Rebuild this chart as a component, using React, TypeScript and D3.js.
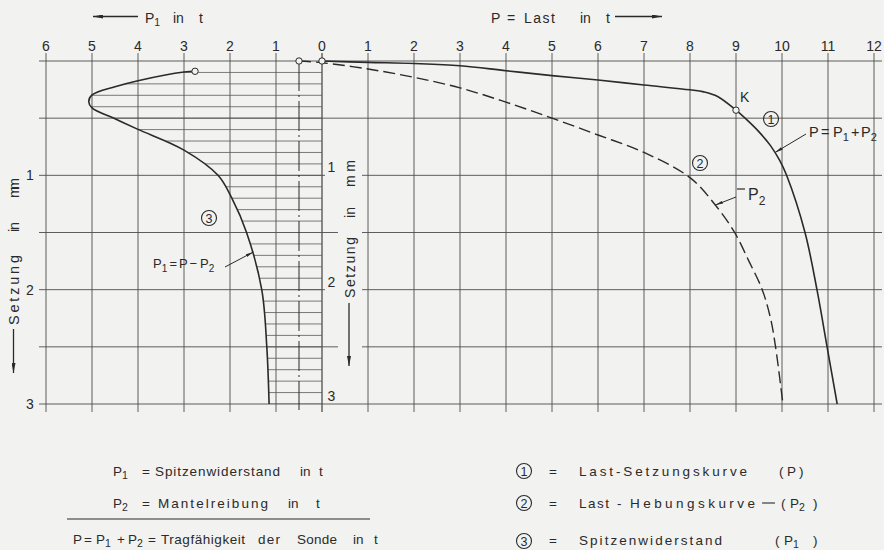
import React from 'react';
import * as d3 from 'd3';

// Kurve 1: Last-Setzungskurve P (t) / Setzung (mm)
const loadP = [0, 1, 2, 3, 4, 5, 6, 7, 8, 8.3, 8.6, 9.0, 9.25, 9.5, 9.75, 9.95, 10.1, 10.5, 10.76, 10.98, 11.2];
const loadS = [0, 0.012, 0.022, 0.041, 0.085, 0.128, 0.166, 0.21, 0.252, 0.27, 0.31, 0.43, 0.52, 0.62, 0.74, 0.87, 1.0, 1.5, 2.0, 2.5, 3.0];

// Kurve 2: Last-Hebungskurve P2
const liftP = [-0.5, 0, 1, 2, 3, 4, 5, 6, 7, 8, 8.55, 8.97, 9.28, 9.57, 9.75, 9.86, 10.02];
const liftS = [0, 0.015, 0.07, 0.143, 0.235, 0.36, 0.5, 0.647, 0.8, 1.02, 1.26, 1.5, 1.75, 2.0, 2.25, 2.5, 3.0];

// Kurve 3: Spitzenwiderstand P1 = P - P2
const tipP = [2.76, 3.0, 4.0, 4.5, 5.0, 5.07, 5.0, 4.5, 4.0, 3.0, 2.26, 1.96, 1.64, 1.31, 1.2, 1.15];
const tipS = [0.09, 0.096, 0.172, 0.225, 0.297, 0.356, 0.41, 0.505, 0.598, 0.779, 1.0, 1.2, 1.5, 2.0, 2.5, 3.0];

const loadTicks = [0, 1, 2, 3, 4, 5, 6, 7, 8, 9, 10, 11, 12];
const tipTicks = [1, 2, 3, 4, 5, 6];
const settleTicks = [1, 2, 3];
const gridS = [0, 0.5, 1, 1.5, 2, 2.5, 3];

const FONT = "'Liberation Sans', Arial, sans-serif";
const INK = '#2a2a2a';
const GRID = '#4d4d4d';
const BG = '#f2f2f0';

function Ring({ cx, cy, n }: { cx: number; cy: number; n: string }) {
  return (
    <g>
      <circle cx={cx} cy={cy} r={7.5} fill="none" stroke={INK} strokeWidth={1.1} />
      <text x={cx} y={cy + 4.5} fontSize={12.5} textAnchor="middle">{n}</text>
    </g>
  );
}

export default function App() {
  const xP = d3.scaleLinear().domain([0, 12]).range([322, 874]);
  const xP1 = d3.scaleLinear().domain([0, 6]).range([322, 46]);
  const yS = d3.scaleLinear().domain([0, 3]).range([61, 404]);

  const line = d3.line().curve(d3.curveCatmullRom.alpha(0.5));
  const loadPts = loadP.map((p, i) => [xP(p), yS(loadS[i])] as [number, number]);
  const liftPts = liftP.map((p, i) => [xP(p), yS(liftS[i])] as [number, number]);
  const tipPts = tipP.map((p, i) => [xP1(p), yS(tipS[i])] as [number, number]);

  const tipPath = line(tipPts) || '';
  const clipPath =
    tipPath + `L${xP1(0)},${yS(tipS[tipS.length - 1])}L${xP1(0)},${yS(tipS[0])}Z`;
  const hatch = d3.range(0.1, 3.001, 0.1);

  const k = loadPts[11];
  const a1 = [xP(9.85), yS(0.8)];
  const a2 = liftPts[10];
  const a3 = [xP1(1.49), yS(1.67)];

  const sub = (t: string, size = 10.5, d = 3) => (
    <tspan dy={d} fontSize={size}>{t}</tspan>
  );

  return (
    <svg width={884} height={550} style={{ position: 'absolute', left: 0, top: 0, display: 'block' }}
      fontFamily={FONT} fill={INK}>
      <defs>
        <marker id="ah" viewBox="0 0 10 4" refX={10} refY={2} markerWidth={10} markerHeight={4}
          markerUnits="userSpaceOnUse" orient="auto">
          <path d="M0,0L10,2L0,4Z" fill={INK} />
        </marker>
        <marker id="ahs" viewBox="0 0 8 3" refX={8} refY={1.5} markerWidth={8} markerHeight={3}
          markerUnits="userSpaceOnUse" orient="auto">
          <path d="M0,0L8,1.5L0,3Z" fill={INK} />
        </marker>
        <clipPath id="tipArea"><path d={clipPath} /></clipPath>
      </defs>
      <rect width={884} height={550} fill={BG} />

      {/* Raster */}
      <g stroke={GRID} strokeWidth={0.9}>
        {loadTicks.map(t => (
          <line key={'v' + t} x1={xP(t)} x2={xP(t)} y1={53} y2={412} strokeWidth={t === 0 ? 1.3 : 0.9} />
        ))}
        {tipTicks.map(t => (
          <line key={'w' + t} x1={xP1(t)} x2={xP1(t)} y1={53} y2={412} />
        ))}
        {gridS.map(s => (
          <line key={'h' + s} x1={39} x2={882} y1={yS(s)} y2={yS(s)} />
        ))}
      </g>
      {/* Lücken im Raster für die mittlere Achsbeschriftung */}
      <rect x={338} y={150} width={24} height={222} fill={BG} />
      <rect x={325} y={168} width={14} height={10} fill={BG} />
      <rect x={325} y={283} width={14} height={10} fill={BG} />

      {/* Schraffur P1 */}
      <g clipPath="url(#tipArea)" stroke="#5a5a5a" strokeWidth={0.8}>
        {hatch.map(s => (
          <line key={'s' + s} x1={xP1(6)} x2={xP1(0)} y1={yS(s)} y2={yS(s)} />
        ))}
      </g>

      {/* Strichpunktlinie */}
      <line x1={xP(-0.5)} x2={xP(-0.5)} y1={yS(0)} y2={410} stroke={INK} strokeWidth={1}
        strokeDasharray="30 4 2 4" />

      {/* Kurven */}
      <path d={line(loadPts) || ''} fill="none" stroke={INK} strokeWidth={1.6} />
      <path d={line(liftPts) || ''} fill="none" stroke={INK} strokeWidth={1.4} strokeDasharray="12 5" />
      <path d={tipPath} fill="none" stroke={INK} strokeWidth={1.6} />

      <g fill={BG} stroke={INK} strokeWidth={1}>
        <circle cx={loadPts[0][0]} cy={loadPts[0][1]} r={3.2} />
        <circle cx={liftPts[0][0]} cy={liftPts[0][1]} r={3.2} />
        <circle cx={tipPts[0][0]} cy={tipPts[0][1]} r={3.2} />
        <circle cx={k[0]} cy={k[1]} r={3.2} />
      </g>

      {/* Achsbeschriftung oben */}
      <g fontSize={14} textAnchor="middle">
        {loadTicks.map(t => (
          <text key={'lt' + t} x={xP(t)} y={51}>{t}</text>
        ))}
        {tipTicks.map(t => (
          <text key={'tt' + t} x={xP1(t)} y={51}>{t}</text>
        ))}
      </g>
      {settleTicks.map(s => (
        <text key={'sl' + s} x={30} y={yS(s) + 5} fontSize={14} textAnchor="middle">{s}</text>
      ))}
      {settleTicks.map(s => (
        <text key={'sm' + s} x={331.5} y={yS(s) - 3} fontSize={14} textAnchor="middle">{s}</text>
      ))}

      {/* Titel oben */}
      <line x1={138} x2={93} y1={16.5} y2={16.5} stroke={INK} strokeWidth={1.3} markerEnd="url(#ah)" />
      <text y={23} fontSize={14}>
        <tspan x={145}>P</tspan>{sub('1')}
        <tspan x={173} dy={-3}>in</tspan>
        <tspan x={199}>t</tspan>
      </text>

      <text y={23} fontSize={14}>
        <tspan x={491}>P</tspan>
        <tspan x={507}>=</tspan>
        <tspan x={524} textLength={31} lengthAdjust="spacing">Last</tspan>
        <tspan x={580}>in</tspan>
        <tspan x={606}>t</tspan>
      </text>
      <line x1={615} x2={662} y1={16.5} y2={16.5} stroke={INK} strokeWidth={1.3} markerEnd="url(#ah)" />

      {/* Setzung in mm, links */}
      <g transform="translate(19,325) rotate(-90)" fontSize={14.5}>
        <text x={0} y={0} textLength={70} lengthAdjust="spacing">Setzung</text>
        <text x={93} y={0} textLength={10} lengthAdjust="spacing">in</text>
        <text x={127} y={0} textLength={20} lengthAdjust="spacing">mm</text>
      </g>
      <line x1={13.5} x2={13.5} y1={329} y2={373} stroke={INK} strokeWidth={1.3} markerEnd="url(#ah)" />

      {/* Setzung in mm, Mitte */}
      <g transform="translate(355,298) rotate(-90)" fontSize={14}>
        <text x={0} y={0} textLength={61} lengthAdjust="spacing">Setzung</text>
        <text x={80} y={0} textLength={11} lengthAdjust="spacing">in</text>
        <text x={111} y={0} textLength={27} lengthAdjust="spacing">mm</text>
      </g>
      <line x1={349} x2={349} y1={303} y2={366} stroke={INK} strokeWidth={1.3} markerEnd="url(#ah)" />

      {/* Beschriftungen an den Kurven */}
      <text x={740} y={102} fontSize={14}>K</text>
      <Ring cx={771} cy={119} n="1" />
      <Ring cx={700} cy={163} n="2" />
      <Ring cx={209} cy={218} n="3" />

      <line x1={806} x2={a1[0]} y1={134} y2={a1[1]} stroke={INK} strokeWidth={1} markerEnd="url(#ahs)" />
      <text y={137} fontSize={14.5}>
        <tspan x={809}>P</tspan>
        <tspan x={821}>=</tspan>
        <tspan x={833}>P</tspan>{sub('1', 11, 4)}
        <tspan x={851} dy={-4}>+</tspan>
        <tspan x={861}>P</tspan>{sub('2', 11, 4)}
      </text>

      <line x1={736} x2={a2[0]} y1={197} y2={a2[1]} stroke={INK} strokeWidth={1} markerEnd="url(#ahs)" />
      <line x1={737} x2={745} y1={189} y2={189} stroke={INK} strokeWidth={1.2} />
      <text x={748} y={200} fontSize={16}>P{sub('2', 12, 5)}</text>

      <line x1={225} x2={a3[0]} y1={267} y2={a3[1]} stroke={INK} strokeWidth={1} markerEnd="url(#ahs)" />
      <text y={268} fontSize={13}>
        <tspan x={153}>P</tspan>{sub('1', 10, 4)}
        <tspan x={169.5} dy={-4}>=</tspan>
        <tspan x={179}>P</tspan>
        <tspan x={189.5}>−</tspan>
        <tspan x={200}>P</tspan>{sub('2', 10, 4)}
      </text>

      {/* Legende links */}
      <g fontSize={13.5}>
        <text y={476}>
          <tspan x={113}>P</tspan>{sub('1')}
          <tspan x={142} dy={-3}>=</tspan>
          <tspan x={155} textLength={125} lengthAdjust="spacing">Spitzenwiderstand</tspan>
          <tspan x={300}>in</tspan>
          <tspan x={319}>t</tspan>
        </text>

        <text y={508}>
          <tspan x={113}>P</tspan>{sub('2')}
          <tspan x={142} dy={-3}>=</tspan>
          <tspan x={158} textLength={110} lengthAdjust="spacing">Mantelreibung</tspan>
          <tspan x={288}>in</tspan>
          <tspan x={316}>t</tspan>
        </text>

        <line x1={67} x2={370} y1={519} y2={519} stroke={INK} strokeWidth={1.2} />

        <text y={544}>
          <tspan x={73}>P</tspan>
          <tspan x={84}>=</tspan>
          <tspan x={96}>P</tspan>{sub('1')}
          <tspan x={117} dy={-3}>+</tspan>
          <tspan x={128}>P</tspan>{sub('2')}
          <tspan x={148} dy={-3}>=</tspan>
          <tspan x={161} textLength={84} lengthAdjust="spacing">Tragfähigkeit</tspan>
          <tspan x={258} textLength={22} lengthAdjust="spacing">der</tspan>
          <tspan x={297} textLength={40} lengthAdjust="spacing">Sonde</tspan>
          <tspan x={353}>in</tspan>
          <tspan x={374}>t</tspan>
        </text>
      </g>

      {/* Legende rechts */}
      <g fontSize={13.5}>
        <Ring cx={524} cy={471} n="1" />
        <text y={476}>
          <tspan x={549}>=</tspan>
          <tspan x={579} textLength={168} lengthAdjust="spacing">Last-Setzungskurve</tspan>
          <tspan x={779}>(</tspan>
          <tspan x={787}>P</tspan>
          <tspan x={799}>)</tspan>
        </text>

        <Ring cx={524} cy={503} n="2" />
        <text y={508}>
          <tspan x={549}>=</tspan>
          <tspan x={579} textLength={30} lengthAdjust="spacing">Last</tspan>
          <tspan x={617}>-</tspan>
          <tspan x={630} textLength={125} lengthAdjust="spacing">Hebungskurve</tspan>
          <tspan x={781}>(</tspan>
          <tspan x={790}>P</tspan>{sub('2')}
          <tspan x={813} dy={-3}>)</tspan>
        </text>
        <line x1={762} x2={775} y1={503} y2={503} stroke={INK} strokeWidth={1.1} />

        <Ring cx={524} cy={541} n="3" />
        <text y={545}>
          <tspan x={549}>=</tspan>
          <tspan x={579} textLength={143} lengthAdjust="spacing">Spitzenwiderstand</tspan>
          <tspan x={775}>(</tspan>
          <tspan x={784}>P</tspan>{sub('1', 10.5, 2.5)}
          <tspan x={813} dy={-2.5}>)</tspan>
        </text>
      </g>
    </svg>
  );
}
